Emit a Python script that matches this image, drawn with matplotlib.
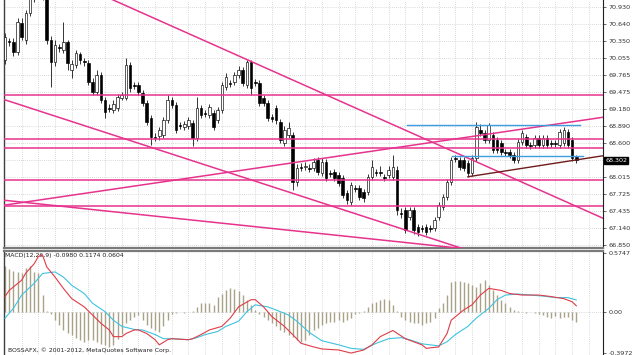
import numpy as np
import matplotlib.pyplot as plt
import matplotlib.transforms as mtransforms

# candles (one per bar, oldest first)
bar_open = [70.02, 70.35, 70.33, 70.16, 70.66, 70.36, 70.83, 71.08, 71.29, 71.15,
            71.22, 70.36, 69.99, 70.24, 70.19, 70.33, 69.85, 69.94, 70.12, 70.00,
            69.97, 69.64, 69.47, 69.76, 69.34, 69.20, 69.16, 69.20, 69.37, 69.37,
            69.94, 69.59, 69.59, 69.46, 69.28, 69.03, 68.70, 68.72, 68.74, 68.99,
            69.34, 69.25, 68.91, 68.87, 68.89, 68.94, 68.68, 69.20, 69.11, 69.08,
            69.11, 68.99, 69.16, 69.56, 69.63, 69.64, 69.76, 69.85, 69.59, 69.99,
            69.64, 69.63, 69.37, 69.28, 69.04, 69.20, 68.96, 68.60, 68.74, 68.74,
            67.93, 68.19, 68.19, 68.17, 68.17, 68.31, 68.08, 68.27, 68.08, 68.10,
            68.05, 68.00, 67.74, 67.59, 67.83, 67.83, 67.76, 67.76, 68.02, 68.10,
            68.10, 68.02, 68.05, 68.02, 68.14, 67.40, 67.45, 67.33, 67.45, 67.16,
            67.14, 67.16, 67.14, 67.14, 67.33, 67.50, 67.67, 67.93, 68.34, 68.31,
            68.31, 68.26, 68.09, 68.34, 68.82, 68.77, 68.65, 68.74, 68.65, 68.60,
            68.45, 68.45, 68.39, 68.31, 68.62, 68.70, 68.57, 68.57, 68.68, 68.57,
            68.68, 68.60, 68.60, 68.57, 68.60, 68.79, 68.65, 68.36]
bar_close = [70.42, 70.33, 70.16, 70.67, 70.42, 70.83, 71.08, 71.29, 71.15, 71.26,
             70.36, 69.99, 70.28, 70.23, 70.33, 69.97, 69.95, 70.14, 70.02, 69.99,
             69.64, 69.47, 69.76, 69.34, 69.13, 69.18, 69.27, 69.39, 69.42, 69.94,
             69.54, 69.58, 69.47, 69.28, 68.96, 68.70, 68.68, 68.82, 68.99, 69.34,
             69.25, 68.82, 68.89, 68.92, 68.99, 68.68, 69.20, 69.08, 69.10, 69.22,
             68.87, 69.16, 69.59, 69.73, 69.61, 69.76, 69.85, 69.63, 69.99, 69.54,
             69.63, 69.28, 69.28, 69.03, 69.01, 68.99, 68.65, 68.82, 68.86, 67.93,
             68.17, 68.17, 68.20, 68.15, 68.27, 68.10, 68.27, 68.00, 68.07, 68.00,
             67.91, 67.71, 67.62, 67.88, 67.81, 67.67, 67.66, 68.02, 68.19, 68.09,
             68.09, 68.00, 68.14, 68.19, 67.45, 67.38, 67.11, 67.45, 67.11, 67.07,
             67.12, 67.07, 67.12, 67.28, 67.54, 67.67, 67.93, 68.31, 68.33, 68.19,
             68.17, 68.09, 68.34, 68.87, 68.77, 68.65, 68.91, 68.48, 68.48, 68.45,
             68.43, 68.39, 68.31, 68.62, 68.77, 68.57, 68.55, 68.68, 68.57, 68.68,
             68.57, 68.58, 68.58, 68.79, 68.82, 68.57, 68.34, 68.302]
bar_high = [70.48, 70.40, 70.40, 70.74, 70.74, 70.88, 71.19, 71.39, 71.43, 71.36,
            71.29, 70.43, 70.36, 70.30, 70.67, 70.36, 70.02, 70.19, 70.16, 70.06,
            70.02, 69.71, 69.85, 69.82, 69.39, 69.27, 69.34, 69.44, 69.47, 70.06,
            69.99, 69.64, 69.64, 69.51, 69.34, 69.08, 68.77, 68.87, 69.04, 69.42,
            69.39, 69.30, 68.96, 68.98, 69.04, 68.99, 69.39, 69.25, 69.16, 69.27,
            69.16, 69.22, 69.64, 69.80, 69.68, 69.82, 69.92, 69.90, 70.02, 70.02,
            69.70, 69.68, 69.42, 69.34, 69.10, 69.25, 69.01, 68.89, 68.96, 68.79,
            68.24, 68.26, 68.27, 68.24, 68.34, 68.36, 68.34, 68.32, 68.14, 68.15,
            68.10, 68.05, 67.79, 67.93, 67.88, 67.88, 67.81, 68.07, 68.31, 68.15,
            68.20, 68.07, 68.20, 68.39, 68.20, 67.48, 67.50, 67.50, 67.50, 67.21,
            67.19, 67.21, 67.19, 67.33, 67.59, 67.73, 67.98, 68.36, 68.39, 68.36,
            68.36, 68.31, 68.39, 68.96, 68.93, 68.82, 68.94, 68.79, 68.70, 68.65,
            68.50, 68.50, 68.44, 68.67, 68.82, 68.75, 68.62, 68.74, 68.74, 68.74,
            68.74, 68.65, 68.65, 68.84, 68.87, 68.84, 68.70, 68.39]
bar_low = [69.95, 70.26, 70.09, 70.11, 70.36, 70.30, 70.78, 71.02, 71.08, 71.05,
           70.30, 69.56, 69.92, 70.16, 70.14, 69.85, 69.71, 69.88, 69.95, 69.92,
           69.59, 69.42, 69.42, 69.28, 69.03, 69.13, 69.11, 69.15, 69.34, 69.34,
           69.47, 69.52, 69.42, 69.23, 68.91, 68.56, 68.63, 68.65, 68.68, 68.94,
           69.20, 68.77, 68.84, 68.82, 68.84, 68.55, 68.63, 69.03, 69.04, 69.03,
           68.82, 68.94, 69.11, 69.51, 69.56, 69.59, 69.71, 69.58, 69.54, 69.42,
           69.58, 69.23, 69.23, 68.98, 68.96, 68.93, 68.60, 68.55, 68.69, 67.79,
           67.86, 68.12, 68.14, 68.10, 68.12, 68.05, 68.03, 67.95, 68.02, 67.95,
           67.86, 67.66, 67.55, 67.54, 67.76, 67.62, 67.59, 67.71, 67.96, 68.03,
           68.03, 67.95, 68.00, 67.96, 67.36, 67.31, 67.06, 67.28, 67.04, 67.00,
           67.07, 67.02, 67.07, 67.09, 67.28, 67.45, 67.62, 67.88, 68.27, 68.14,
           68.12, 68.02, 68.03, 68.29, 68.72, 68.60, 68.60, 68.43, 68.43, 68.39,
           68.38, 68.34, 68.26, 68.26, 68.57, 68.51, 68.50, 68.51, 68.51, 68.51,
           68.51, 68.53, 68.53, 68.51, 68.55, 68.51, 68.29, 68.26]

# MACD panel
macd_hist = [0.45, 0.42, 0.40, 0.39, 0.38, 0.43, 0.45, 0.39, 0.38, 0.17,
             0.01, -0.02, -0.08, -0.13, -0.18, -0.20, -0.22, -0.25, -0.27, -0.29,
             -0.27, -0.27, -0.29, -0.31, -0.32, -0.34, -0.32, -0.26, -0.21, -0.11,
             -0.08, -0.05, -0.03, -0.08, -0.13, -0.16, -0.18, -0.19, -0.14, -0.08,
             -0.02, -0.01, 0.00, -0.01, 0.00, 0.01, 0.05, 0.085, 0.09, 0.09,
             0.07, 0.15, 0.18, 0.21, 0.23, 0.22, 0.20, 0.165, 0.12, 0.07,
             0.02, -0.02, -0.045, -0.08, -0.11, -0.14, -0.175, -0.19, -0.22, -0.24,
             -0.27, -0.29, -0.27, -0.22, -0.18, -0.16, -0.13, -0.11, -0.094, -0.094,
             -0.08, -0.094, -0.08, -0.06, -0.02, -0.01, 0.005, 0.05, 0.085, 0.10,
             0.12, 0.125, 0.12, 0.07, 0.01, -0.045, -0.08, -0.094, -0.11, -0.11,
             -0.127, -0.11, -0.094, -0.06, 0.035, 0.085, 0.165, 0.295, 0.305, 0.305,
             0.295, 0.28, 0.26, 0.245, 0.285, 0.31, 0.26, 0.215, 0.165, 0.12,
             0.085, 0.05, 0.02, 0.005, 0.0, -0.005, 0.0, -0.01, -0.015, -0.03,
             -0.045, -0.06, -0.04, -0.06, -0.045, -0.05, -0.08, -0.098]
macd_red_bar = [0, 1, 4, 5, 7, 8, 9, 10, 12, 14, 16, 19, 21, 23, 25, 26, 28, 29, 31, 32,
                34, 36, 37, 39, 40, 44, 45, 47, 49, 52, 54, 56, 59, 60, 62, 64, 67, 69, 71, 74,
                76, 80, 83, 86, 88, 90, 93, 96, 100, 101, 104, 106, 107, 110, 112, 114, 116, 119, 121, 124,
                128, 131, 134, 136, 137]
macd_red = [0.15, 0.21, 0.31, 0.38, 0.47, 0.54, 0.555, 0.44, 0.34, 0.23,
            0.13, 0.05, -0.03, -0.11, -0.175, -0.24, -0.24, -0.21, -0.175, -0.175,
            -0.21, -0.27, -0.32, -0.27, -0.26, -0.27, -0.26, -0.22, -0.175, -0.14,
            -0.06, 0.05, 0.12, 0.12, 0.05, -0.045, -0.14, -0.22, -0.305, -0.34,
            -0.36, -0.37, -0.40, -0.37, -0.32, -0.24, -0.18, -0.26, -0.32, -0.354,
            -0.34, -0.21, -0.08, 0.02, 0.07, 0.165, 0.23, 0.21, 0.18, 0.165,
            0.165, 0.15, 0.13, 0.10, 0.06]
macd_cyan_bar = [0, 2, 4, 7, 9, 12, 14, 16, 19, 21, 24, 26, 28, 31, 33, 36, 38, 40, 44, 46,
                 48, 51, 53, 56, 58, 60, 63, 65, 68, 70, 73, 76, 80, 83, 86, 89, 92, 95, 97, 100,
                 104, 106, 108, 111, 113, 116, 118, 120, 123, 126, 129, 132, 135, 137]
macd_cyan = [-0.06, 0.035, 0.165, 0.28, 0.375, 0.39, 0.34, 0.26, 0.18, 0.085,
             0.003, -0.08, -0.14, -0.17, -0.175, -0.22, -0.26, -0.26, -0.27, -0.25,
             -0.22, -0.19, -0.14, -0.09, 0.003, 0.07, 0.05, 0.02, -0.03, -0.09,
             -0.20, -0.28, -0.32, -0.354, -0.364, -0.305, -0.26, -0.25, -0.27, -0.31,
             -0.33, -0.29, -0.22, -0.14, -0.06, 0.035, 0.12, 0.165, 0.175, 0.165,
             0.155, 0.14, 0.14, 0.117]

# axis labels
price_ticks = [66.850, 67.140, 67.435, 67.725, 68.015, 68.305, 68.600, 68.890,
               69.180, 69.475, 69.765, 70.055, 70.350, 70.640, 70.930]
macd_ticks = [0.5747, 0.0, -0.3972]
macd_tick_labels = ["0.5747", "0.00", "-0.3972"]
last_price = 68.302

# drawn objects (bar index, price)
pink_levels = [69.42, 68.67, 68.51, 67.96, 67.52]
pink_trends = [((25, 71.08), (144, 67.29)),
               ((-0.5, 69.35), (111, 66.76)),
               ((-0.5, 67.62), (111, 66.78)),
               ((-0.5, 67.53), (143.4, 69.04))]
blue_levels = [(68.91, 96.4, 137.9), (68.38, 107.2, 138.6)]
brown_trend = ((111, 68.02), (143.4, 68.38))

PINK = "#e6338d"
GRID = "#b8b8b8"

fig = plt.figure(figsize=(6.32, 3.55), dpi=100)
ax = fig.add_axes([4 / 632, 107 / 355, 599 / 632, 248 / 355])
mx = fig.add_axes([4 / 632, -7 / 355, 599 / 632, 111 / 355])

n = len(bar_close)
x = np.arange(n)
xlim = (-0.24, 143.4)

# grid
grid_x = np.arange(4, 144, 4)
for a in (ax, mx):
    for gx in grid_x:
        a.axvline(gx, color=GRID, lw=0.5, ls=(0, (1, 2)), zorder=0)
for p in price_ticks:
    ax.axhline(p, color=GRID, lw=0.5, ls=(0, (1, 2)), zorder=0)
mx.axhline(0, color=GRID, lw=0.5, ls=(0, (1, 2)), zorder=0)

# candles
o = np.array(bar_open)
c = np.array(bar_close)
ax.vlines(x, bar_low, bar_high, color="black", lw=0.55, zorder=2)
body_lo = np.minimum(o, c)
body_h = np.maximum(np.abs(c - o), 0.006)
face = ["white" if cc > oo else "black" for oo, cc in zip(o, c)]
ax.bar(x, body_h, bottom=body_lo, width=0.62, color=face, edgecolor="black",
       linewidth=0.45, zorder=3)

# objects
for lvl in pink_levels:
    ax.axhline(lvl, color=PINK, lw=1.1, zorder=4)
for (x0, y0), (x1, y1) in pink_trends:
    ax.plot([x0, x1], [y0, y1], color=PINK, lw=1.1, zorder=4)
for lvl, x0, x1 in blue_levels:
    ax.plot([x0, x1], [lvl, lvl], color="#3d9be0", lw=1.0, zorder=4)
ax.plot([brown_trend[0][0], brown_trend[1][0]], [brown_trend[0][1], brown_trend[1][1]],
        color="#6e1c1c", lw=1.0, zorder=4)

ax.set_xlim(*xlim)
ax.set_ylim(66.799, 71.05)
ax.set_xticks([])
ax.yaxis.tick_right()
ax.set_yticks(price_ticks)
ax.set_yticklabels(["" if abs(p - 68.305) < 1e-6 else f"{p:.3f}" for p in price_ticks])
ax.tick_params(axis="y", labelsize=4.6, colors="#303030", length=2, width=0.5, pad=2)

tr = mtransforms.blended_transform_factory(ax.transAxes, ax.transData)
ax.text(1.004, last_price, f"{last_price:.3f}", transform=tr, fontsize=4.6, color="white",
        va="center", ha="left",
        bbox=dict(boxstyle="square,pad=0.15", fc="black", ec="black"))

# MACD
mx.vlines(x, 0, macd_hist, color="#a8a388", lw=1.0, zorder=2)
mx.plot(macd_cyan_bar, macd_cyan, color="#3ec3e0", lw=0.8, zorder=3)
mx.plot(macd_red_bar, macd_red, color="#e03c48", lw=0.8, zorder=4)
mx.set_xlim(*xlim)
mx.set_ylim(-0.487, 0.594)
mx.set_xticks([])
mx.yaxis.tick_right()
mx.set_yticks(macd_ticks)
mx.set_yticklabels(macd_tick_labels)
mx.tick_params(axis="y", labelsize=4.6, colors="#303030", length=2, width=0.5, pad=2)
mx.text(0.002, 0.985, "MACD(12,26,9) -0.0980 0.1174 0.0604", transform=mx.transAxes,
        fontsize=4.4, color="#202020", va="top", ha="left")
fig.text(8 / 632, 5 / 355, "BOSSAFX, \u00a9 2001-2012, MetaQuotes Software Corp.",
         fontsize=4.4, color="#202020", va="center", ha="left")

for a in (ax, mx):
    a.spines["top"].set_visible(False)
    a.spines["left"].set_color("#404040")
    a.spines["right"].set_color("#202020")
    a.spines["left"].set_linewidth(1.0)
    a.spines["right"].set_linewidth(0.8)
ax.spines["bottom"].set_color("#7a7a7a")
ax.spines["bottom"].set_linewidth(1.6)
mx.spines["top"].set_visible(True)
mx.spines["top"].set_color("#7a7a7a")
mx.spines["top"].set_linewidth(1.6)

fig.savefig("out.png", dpi=100, facecolor="white")
